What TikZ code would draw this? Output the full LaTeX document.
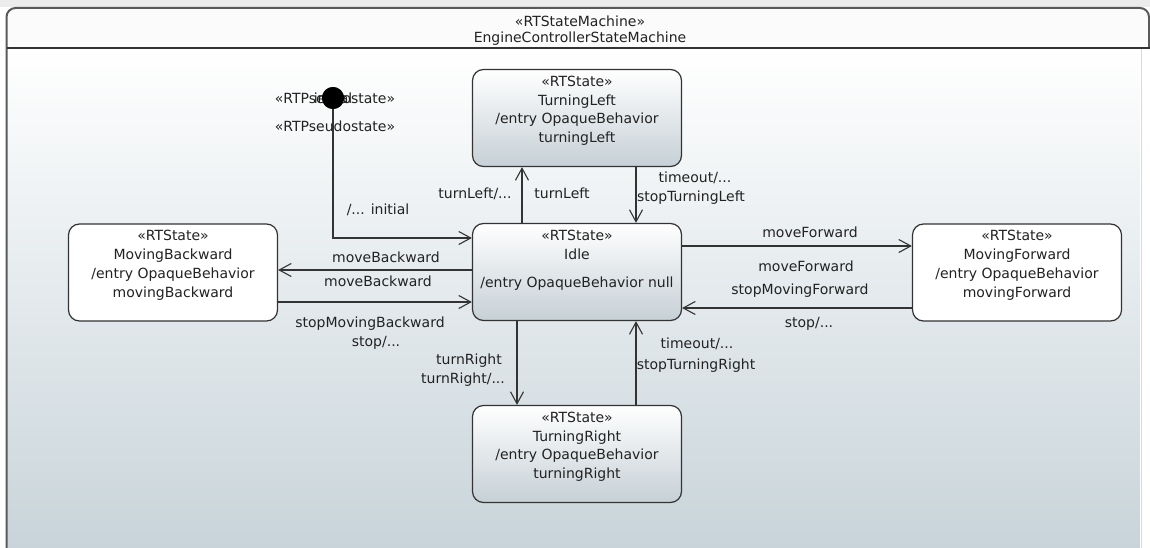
\documentclass[tikz,border=0pt]{standalone}
\usepackage{fontspec}
\setmainfont{DejaVu Sans}
\usetikzlibrary{arrows.meta}
\definecolor{ink}{HTML}{222222}
\definecolor{edgecol}{HTML}{333333}
\definecolor{framecol}{HTML}{5A5A5A}
\definecolor{bgbot}{HTML}{C8D4DA}
\definecolor{boxbot}{HTML}{C6D0D6}
\definecolor{topband}{HTML}{ECECEC}
\definecolor{titlefill}{HTML}{FBFBFB}

\begin{document}
\begin{tikzpicture}[x=1pt,y=-1pt,
  every node/.style={font=\fontsize{14}{18.7}\selectfont, text=ink, inner sep=0pt},
  statebox/.style={draw=edgecol, line width=1.2pt, rounded corners=11pt,
                   minimum width=209pt, minimum height=97pt},
  shadedbox/.style={statebox, top color=white, bottom color=boxbot},
  plainbox/.style={statebox, fill=white},
  boxtext/.style={align=center, anchor=north},
  lbl/.style={text height=10.5pt, text depth=0pt},
  trans/.style={draw=edgecol, line width=1.1pt,
                -{Straight Barb[length=12pt,width=13pt,line width=1.1pt]}},
]
\useasboundingbox (0,0) rectangle (1150,548);

% window background
\fill[topband] (0,0) rectangle (1150,7);
\fill[white] (0,7) rectangle (1150,548);

% state machine frame: title compartment and shaded body
\fill[titlefill, rounded corners=9pt] (6.5,8) rectangle (1149,48);
\shade[top color=white, bottom color=bgbot] (7.5,48) rectangle (1140,548);
\fill[white] (1140,49) rectangle (1150,548);
\draw[black!15, line width=1pt] (1141.5,49) -- (1141.5,548);
\draw[framecol, line width=2pt, rounded corners=9pt]
  (6.5,548) -- (6.5,8) -- (1149,8) -- (1149,48);
\draw[edgecol, line width=1.5pt] (6.5,48) -- (1150,48);

\node (smstereo) at (580,21) {«RTStateMachine»};
\node (smname) at (580,39) {EngineControllerStateMachine};

% states
\node[shadedbox] (tl)   at (577,118)   {};
\node[shadedbox] (idle) at (577,272)   {};
\node[plainbox]  (mb)   at (173,272.5) {};
\node[plainbox]  (mf)   at (1017,272.5){};
\node[shadedbox] (tr)   at (577,454)   {};

\node[boxtext] (tltext) at ([yshift=-7pt]tl.north)
  {«RTState»\\TurningLeft\\/entry OpaqueBehavior\\turningLeft};
\node[boxtext] (idletext) at ([yshift=-7pt]idle.north)
  {«RTState»\\Idle\\[9.5pt]/entry OpaqueBehavior null};
\node[boxtext] (mbtext) at ([yshift=-7pt]mb.north)
  {«RTState»\\MovingBackward\\/entry OpaqueBehavior\\movingBackward};
\node[boxtext] (mftext) at ([yshift=-7pt]mf.north)
  {«RTState»\\MovingForward\\/entry OpaqueBehavior\\movingForward};
\node[boxtext] (trtext) at ([yshift=-7pt]tr.north)
  {«RTState»\\TurningRight\\/entry OpaqueBehavior\\turningRight};

% initial pseudostate with its stereotype labels
\node (pslabel) at (335,98) {«RTPseudostate»};
\node (initname) at (333,98) {initial};
\node (pslabel2) at (335,126) {«RTPseudostate»};

% connector positions
\coordinate (xtla) at (522,0);
\coordinate (xtlb) at (636,0);
\coordinate (xtra) at (517,0);
\coordinate (xtrb) at (636,0);
\coordinate (ymba) at (0,270);
\coordinate (ymbb) at (0,302);
\coordinate (ymfa) at (0,246);
\coordinate (ymfb) at (0,308);
\coordinate (yinit) at (0,238);

\node[circle, fill=black, minimum size=22pt] (init) at (333,98) {};
\draw[trans] (init.south) |- (idle.west |- yinit);
\fill[black] (init) circle (11pt);

% transitions
\draw[trans] (idle.north -| xtla) -- (tl.south -| xtla);
\draw[trans] (tl.south -| xtlb) -- (idle.north -| xtlb);
\draw[trans] (idle.west |- ymba) -- (mb.east |- ymba);
\draw[trans] (mb.east |- ymbb) -- (idle.west |- ymbb);
\draw[trans] (idle.east |- ymfa) -- (mf.west |- ymfa);
\draw[trans] (mf.west |- ymfb) -- (idle.east |- ymfb);
\draw[trans] (idle.south -| xtra) -- (tr.north -| xtra);
\draw[trans] (tr.north -| xtrb) -- (idle.south -| xtrb);

% transition labels
\node[lbl] (linit) at (378,209) {/... initial};
\node[lbl] (ltla) at (475,193) {turnLeft/...};
\node[lbl] (ltlb) at (562,193) {turnLeft};
\node[lbl] (ltoa) at (695,177) {timeout/...};
\node[lbl] (ltob) at (691,196) {stopTurningLeft};
\node[lbl] (lmba) at (386,257) {moveBackward};
\node[lbl] (lmbb) at (378,281) {moveBackward};
\node[lbl] (lsmb) at (370,322) {stopMovingBackward};
\node[lbl] (lstb) at (376,341) {stop/...};
\node[lbl] (lmfa) at (810,232) {moveForward};
\node[lbl] (lmfb) at (806,266) {moveForward};
\node[lbl] (lsmf) at (800,289) {stopMovingForward};
\node[lbl] (lstf) at (809,322) {stop/...};
\node[lbl] (ltra) at (469,359) {turnRight};
\node[lbl] (ltrb) at (463,378) {turnRight/...};
\node[lbl] (ltrc) at (697,343) {timeout/...};
\node[lbl] (ltrd) at (696,364) {stopTurningRight};
\end{tikzpicture}
\end{document}
